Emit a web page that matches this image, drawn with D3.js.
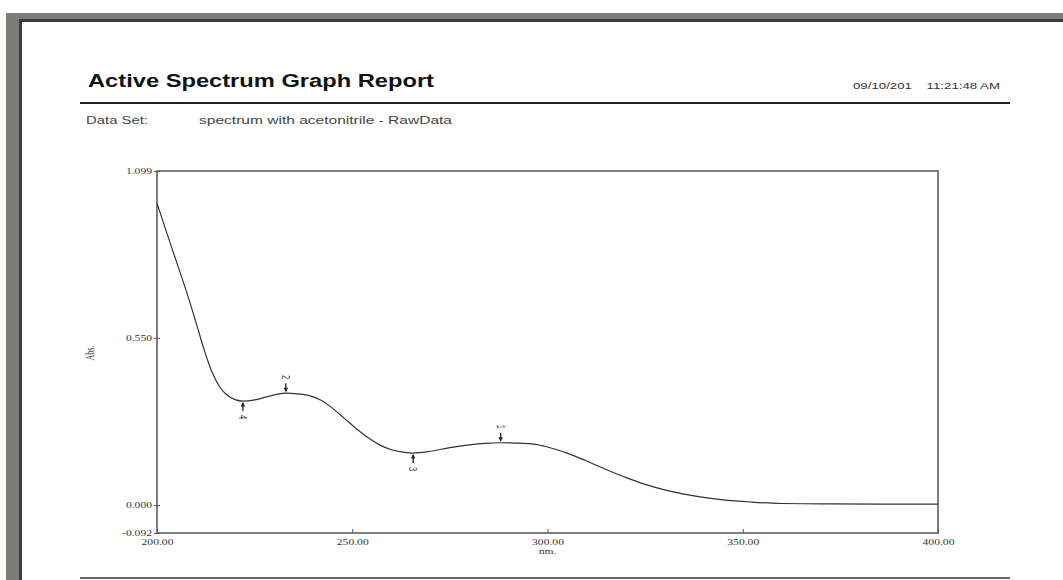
<!DOCTYPE html>
<html>
<head>
<meta charset="utf-8">
<script src="https://cdn.jsdelivr.net/npm/d3@7"></script>
<style>
  body { margin: 0; background: #fff; }
  svg { display: block; }
</style>
</head>
<body>
<svg id="chart"></svg>
<script>
// spectrum (nm, Abs.)
const wavelengths = [200, 202, 204, 206, 208, 210, 212, 214, 216, 218, 220, 222, 225, 228, 231, 233, 236, 239, 242, 245, 248, 251, 254, 257, 260, 263, 265.6, 270, 275, 280, 284, 288, 292, 296, 300, 305, 310, 315, 320, 325, 330, 335, 340, 345, 352, 360, 370, 385, 400];
const absorbance  = [0.993, 0.915, 0.838, 0.762, 0.684, 0.600, 0.514, 0.440, 0.390, 0.361, 0.347, 0.342, 0.346, 0.356, 0.365, 0.368, 0.366, 0.360, 0.345, 0.318, 0.285, 0.252, 0.222, 0.198, 0.182, 0.174, 0.171, 0.177, 0.189, 0.198, 0.203, 0.205, 0.204, 0.201, 0.191, 0.171, 0.145, 0.117, 0.091, 0.068, 0.050, 0.036, 0.025, 0.017, 0.010, 0.005, 0.004, 0.003, 0.003];

const peakLabels = ["4", "2", "3", "1"];
const peakNm     = [222, 233, 265.6, 288];
const peakAbs    = [0.342, 0.368, 0.171, 0.205];
const peakSide   = ["below", "above", "below", "above"];

const yTicks = [1.099, 0.550, 0.000, -0.092];
const xTicks = [200, 250, 300, 350, 400];

const W = 1063, H = 580;
const SX = 1.45; // the report's lettering is stretched sideways
const svg = d3.select("#chart").attr("width", W).attr("height", H);

// page frame
svg.append("rect").attr("x", 6).attr("y", 13).attr("width", W - 6).attr("height", 9).attr("fill", "#7c7c78");
svg.append("rect").attr("x", 6).attr("y", 13).attr("width", 14).attr("height", H - 13).attr("fill", "#7c7c78");
svg.append("rect").attr("x", 19).attr("y", 19).attr("width", 3).attr("height", H - 19).attr("fill", "#3a3a3a");
svg.append("rect").attr("x", 19).attr("y", 19).attr("width", W - 19).attr("height", 3).attr("fill", "#3a3a3a");

// header
function stretchedText(x, y, w, font, color, str) {
  return svg.append("text").attr("x", x).attr("y", y)
    .attr("textLength", w).attr("lengthAdjust", "spacingAndGlyphs")
    .style("font", font).attr("fill", color).text(str);
}
stretchedText(88, 87, 346, "bold 18px 'Liberation Sans', Arial, sans-serif", "#111", "Active Spectrum Graph Report");
stretchedText(853, 89, 147, "9px 'Liberation Sans', Arial, sans-serif", "#333", "09/10/201\u00a0\u00a0\u00a0\u00a011:21:48 AM");
svg.append("line").attr("x1", 80).attr("x2", 1010).attr("y1", 103).attr("y2", 103)
  .attr("stroke", "#222").attr("stroke-width", 2);
stretchedText(86, 124, 62, "10px 'Liberation Sans', Arial, sans-serif", "#444", "Data Set:");
stretchedText(199, 124, 253, "10px 'Liberation Sans', Arial, sans-serif", "#444", "spectrum with acetonitrile - RawData");
svg.append("line").attr("x1", 80).attr("x2", 1010).attr("y1", 578).attr("y2", 578)
  .attr("stroke", "#666").attr("stroke-width", 2);

// plot
const plotL = 157, plotR = 938, plotT = 171, plotB = 533;
const x = d3.scaleLinear().domain([200, 400]).range([plotL, plotR]);
const y = d3.scaleLinear().domain([-0.092, 1.099]).range([plotB, plotT]);

const tickFont = "8px 'Liberation Serif', 'Times New Roman', serif";
const fmt3 = d => d3.format(".3f")(d).replace("\u2212", "-");

const yAxis = svg.append("g").attr("transform", `translate(${plotL + 3},0)`)
  .call(d3.axisLeft(y).tickValues(yTicks).tickFormat(fmt3).tickSize(6).tickPadding(3));
yAxis.select(".domain").remove();
yAxis.selectAll("line").attr("stroke", "#555");
yAxis.selectAll("text").style("font", tickFont).attr("fill", "#333")
  .attr("x", -8 / SX).attr("transform", `scale(${SX},1)`);

const xAxis = svg.append("g").attr("transform", `translate(0,${plotB})`)
  .call(d3.axisBottom(x).tickValues(xTicks).tickFormat(d3.format(".2f")).tickSizeInner(-4).tickSizeOuter(0).tickPadding(6));
xAxis.select(".domain").remove();
xAxis.selectAll("line").attr("stroke", "#555");
xAxis.selectAll("text").style("font", tickFont).attr("fill", "#333").attr("transform", `scale(${SX},1)`);

svg.append("text").attr("transform", `translate(${x(300)},${plotB + 21}) scale(${SX},1)`).attr("text-anchor", "middle")
  .style("font", tickFont).attr("fill", "#333").text("nm.");
svg.append("text").attr("transform", `translate(94,${y(0.5)}) scale(${SX},1) rotate(-90)`).attr("text-anchor", "middle")
  .style("font", tickFont).attr("fill", "#333").text("Abs.");

svg.append("rect").attr("x", plotL).attr("y", plotT).attr("width", plotR - plotL).attr("height", plotB - plotT)
  .attr("fill", "none").attr("stroke", "#555").attr("stroke-width", 1.5);

const line = d3.line().x((d, i) => x(wavelengths[i])).y(d => y(d)).curve(d3.curveMonotoneX);
svg.append("path").datum(absorbance).attr("d", line)
  .attr("fill", "none").attr("stroke", "#333").attr("stroke-width", 1.2);

// peak markers
peakLabels.forEach((lab, i) => {
  const px = x(peakNm[i]), py = y(peakAbs[i]);
  const s = peakSide[i] === "above" ? -1 : 1;
  const g = svg.append("g");
  g.append("line").attr("x1", px).attr("x2", px).attr("y1", py + s * 2).attr("y2", py + s * 10)
    .attr("stroke", "#222").attr("stroke-width", 1.3);
  g.append("path")
    .attr("d", `M${px - 2.2},${py + s * 5.5}L${px},${py + s * 1}L${px + 2.2},${py + s * 5.5}Z`)
    .attr("fill", "#222");
  g.append("text").attr("transform", `translate(${px},${py + s * 16}) scale(${SX},1) rotate(90)`)
    .attr("text-anchor", "middle").attr("dy", "0.35em")
    .style("font", "7.5px 'Liberation Sans', Arial, sans-serif").attr("fill", "#333").text(lab);
});
</script>
</body>
</html>
